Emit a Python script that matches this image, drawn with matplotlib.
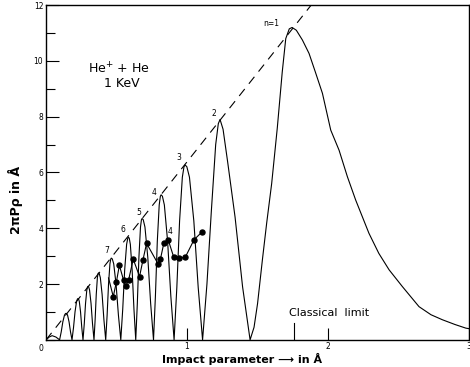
import matplotlib
matplotlib.use("Agg")
import matplotlib.pyplot as plt
from matplotlib.ticker import MultipleLocator

# ---- data ----
# oscillating theoretical curve 2*pi*P*rho (x in A), lobe by lobe
curve_x = [
    0.0, 0.022, 0.043, 0.070, 0.096,
    0.1075, 0.119, 0.1305, 0.1374, 0.142, 0.1462, 0.1525, 0.163, 0.1735, 0.184,
    0.1948, 0.2055, 0.2163, 0.2227, 0.227, 0.2305, 0.2358, 0.2445, 0.2533, 0.262,
    0.271, 0.280, 0.289, 0.2944, 0.298, 0.3022, 0.3085, 0.319, 0.3295, 0.340,
    0.348, 0.356, 0.364, 0.3688, 0.372, 0.3771, 0.3848, 0.3975, 0.4103, 0.423,
    0.433, 0.443, 0.453, 0.459, 0.463, 0.4697, 0.4798, 0.4965, 0.5133, 0.530,
    0.5438, 0.5575, 0.5713, 0.5795, 0.585, 0.5901, 0.5978, 0.6105, 0.6233, 0.636,
    0.6473, 0.6585, 0.6698, 0.6765, 0.681, 0.6891, 0.7013, 0.7215, 0.7418, 0.762,
    0.7755, 0.789, 0.8025, 0.8106, 0.816, 0.8252, 0.839, 0.862, 0.885, 0.908,
    0.9275, 0.947, 0.9665, 0.9782, 0.986, 0.9984, 1.017, 1.048, 1.079, 1.110,
    1.141, 1.172, 1.203, 1.2216, 1.234, 1.2553, 1.2873, 1.3405, 1.3938, 1.447,
    1.475, 1.50, 1.535, 1.565, 1.60, 1.64, 1.675, 1.70, 1.725, 1.745,
    1.775, 1.818, 1.865, 1.91, 1.96, 2.019, 2.078, 2.137, 2.196, 2.29,
    2.36, 2.433, 2.527, 2.645, 2.73, 2.811, 2.90, 2.977, 3.0,
]
curve_y = [
    0.0, 0.10, 0.15, 0.10, 0.0,
    0.285, 0.646, 0.884, 0.94, 0.95, 0.94, 0.884, 0.646, 0.285, 0.0,
    0.444, 1.006, 1.376, 1.465, 1.48, 1.465, 1.376, 1.006, 0.444, 0.0,
    0.576, 1.306, 1.786, 1.90, 1.92, 1.90, 1.786, 1.306, 0.576, 0.0,
    0.72, 1.632, 2.232, 2.376, 2.40, 2.376, 2.232, 1.632, 0.72, 0.0,
    0.879, 1.992, 2.725, 2.90, 2.93, 2.90, 2.725, 1.992, 0.879, 0.0,
    1.104, 2.502, 3.422, 3.643, 3.68, 3.643, 3.422, 2.502, 1.104, 0.0,
    1.305, 2.958, 4.046, 4.307, 4.35, 4.307, 4.046, 2.958, 1.305, 0.0,
    1.56, 3.536, 4.836, 5.148, 5.20, 5.148, 4.836, 3.536, 1.56, 0.0,
    1.881, 4.264, 5.831, 6.207, 6.27, 6.207, 5.831, 4.264, 1.881, 0.0,
    2.0, 4.6, 7.0, 7.75, 7.90, 7.55, 6.40, 4.40, 1.90, 0.0,
    0.45, 1.30, 2.90, 4.20, 5.60, 7.60, 9.60, 10.80, 11.15, 11.2,
    11.10, 10.75, 10.27, 9.60, 8.84, 7.52, 6.80, 5.85, 5.01, 3.82,
    3.10, 2.51, 1.91, 1.19, 0.90, 0.72, 0.55, 0.42, 0.40,
]

# measured points (black dots)
dots_x = [0.4766, 0.4986, 0.5199, 0.5496, 0.5652, 0.5851, 0.6184, 0.6631,
          0.6879, 0.7128, 0.7936, 0.8113, 0.8355, 0.8667, 0.9057, 0.9454,
          0.9872, 1.0496, 1.1064]
dots_y = [1.55, 2.07, 2.67, 2.14, 1.93, 2.14, 2.89, 2.27,
          2.88, 3.46, 2.73, 2.90, 3.47, 3.58, 2.96, 2.93,
          2.96, 3.59, 3.87]
dots_start = (0.443, 2.22)

# envelope (dashed) and peak labels
envelope_x = [0.0, 1.88]
envelope_y = [0.0, 12.0]
peak_labels = ["n=1", "2", "3", "4", "5", "6", "7"]
peak_label_x = [1.60, 1.191, 0.943, 0.766, 0.66, 0.546, 0.433]
peak_label_y = [11.35, 8.13, 6.55, 5.30, 4.58, 3.94, 3.22]

classical_limit = 1.76

fig = plt.figure(figsize=(4.70, 3.67), dpi=100)
ax = fig.add_axes([0.098, 0.074, 0.9, 0.912])

ax.plot(curve_x, curve_y, color="black", lw=0.8)
ax.plot(envelope_x, envelope_y, color="black", lw=0.8, linestyle=(0, (8, 6)))
ax.plot([dots_start[0]] + dots_x, [dots_start[1]] + dots_y, color="black", lw=0.8)
ax.plot(dots_x, dots_y, "o", color="black", ms=3.6)

for lab, lx, ly in zip(peak_labels, peak_label_x, peak_label_y):
    ax.text(lx, ly, lab, fontsize=5.5, ha="center", va="center")
ax.text(0.879, 3.87, "4", fontsize=5.5, ha="center", va="center")

ax.text(0.298, 9.7, "He$^{+}$ + He", fontsize=9, ha="left", va="center")
ax.text(0.411, 9.2, "1 KeV", fontsize=9, ha="left", va="center")

ax.plot([classical_limit, classical_limit], [0, 0.62], color="black", lw=0.8)
ax.text(1.72, 0.97, "Classical  limit", fontsize=8, ha="left", va="center")

ax.set_xlim(0, 3)
ax.set_ylim(0, 12)
ax.set_xticks([1, 2, 3])
ax.set_yticks([2, 4, 6, 8, 10, 12])
ax.yaxis.set_minor_locator(MultipleLocator(1))
ax.tick_params(axis="both", which="major", direction="in", length=9,
               width=0.8, labelsize=5.5, pad=2)
ax.tick_params(axis="x", which="major", pad=1.5)
ax.tick_params(axis="y", which="minor", direction="in", length=6.5, width=0.8)
ax.tick_params(axis="x", which="minor", bottom=False)
ax.text(-0.02, -0.15, "0", fontsize=5.5, ha="right", va="top")

for s in ax.spines.values():
    s.set_linewidth(1.0)

# axis titles placed like in the scan
fig.text(0.032, 0.455, "2πPρ in Å", fontsize=9, fontweight="bold",
         rotation=90, ha="center", va="center")
fig.text(0.515, 0.022, "Impact parameter \u27f6 in Å", fontsize=8,
         fontweight="bold", ha="center", va="center")

fig.savefig("out.png", dpi=100)
